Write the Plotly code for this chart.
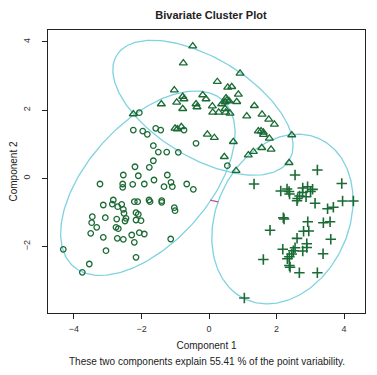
import numpy as np
import plotly.graph_objects as go

# ---- data (component scores) ----
tri_x = [-0.483,-0.761,0.919,0.246,0.554,0.673,-1.028,0.868,-0.187,-0.779,-0.741,0.504,0.533,0.474,0.593,-0.089,-0.957,0.821,0.376,-1.413,-0.385,-0.356,0.098,1.342,-0.779,0.474,-2.243,0.110,0.287,0.495,0.622,1.570,1.117,1.769,1.935,-1.007,-0.939,-0.821,1.461,1.541,1.609,1.615,-0.050,0.157,1.787,2.450,0.720,1.561,1.837,1.313,0.453,1.164,2.370,0.800]
tri_y = [3.880,3.381,3.079,2.833,2.669,2.686,2.589,2.463,2.443,2.399,2.326,2.355,2.296,2.238,2.267,2.326,2.229,2.246,2.179,2.179,2.179,2.091,2.120,2.129,2.041,2.041,1.886,1.935,1.935,1.935,1.906,1.877,1.827,1.730,1.584,1.466,1.446,1.513,1.387,1.387,1.349,1.284,1.290,1.191,1.173,1.270,1.073,0.897,0.850,0.780,0.633,0.683,0.457,0.223]

circ_x = [-2.065,-2.243,-1.964,-1.828,-1.579,-1.431,-0.741,-0.385,-1.650,-1.502,-1.253,-0.910,-1.650,0.542,-2.193,-1.769,-2.539,-2.095,-1.236,-1.630,-3.230,-2.557,-2.557,-2.261,-1.917,-1.126,-1.087,-1.333,-0.661,-0.465,-2.836,-3.132,-2.865,-2.587,-2.213,-2.113,-1.778,-1.748,-1.401,-1.401,-2.705,-2.539,-2.519,-1.028,-1.007,-3.458,-3.476,-3.073,-2.735,-2.459,-2.489,-2.163,-2.095,-2.163,-2.015,-3.327,-2.756,-2.687,-3.505,-2.065,-1.917,-2.290,-3.132,-2.717,-2.539,-2.213,-1.135,-4.317,-3.052,-2.163,-3.547,-3.754]
circ_y = [1.924,1.416,1.387,1.290,1.466,1.416,1.416,1.026,0.956,0.771,0.771,0.762,0.516,0.370,0.340,0.323,0.097,0.076,0.097,-0.050,-0.167,-0.167,-0.264,-0.176,-0.167,-0.117,-0.246,-0.246,-0.167,-0.323,-0.636,-0.783,-0.754,-0.762,-0.686,-0.686,-0.636,-0.686,-0.657,-0.704,-0.833,-0.909,-1.026,-0.862,-0.950,-1.126,-1.302,-1.155,-1.194,-1.173,-1.252,-1.009,-1.056,-1.223,-1.243,-1.437,-1.437,-1.478,-1.613,-1.595,-1.633,-1.663,-1.730,-1.760,-1.789,-1.877,-1.780,-2.082,-2.123,-2.317,-2.513,-2.757]

plus_x = [3.209,2.548,1.333,3.932,2.124,2.311,2.370,2.385,2.776,2.919,3.067,3.007,2.770,2.681,2.874,2.607,2.622,3.141,3.956,4.276,3.511,3.683,2.201,2.222,2.924,3.387,3.585,1.807,2.800,2.954,2.607,3.606,2.895,2.895,2.184,2.548,2.498,2.776,3.378,2.450,2.379,2.320,1.609,2.379,2.400,2.676,3.209,1.046]
plus_y = [0.243,0.097,-0.167,-0.152,-0.372,-0.314,-0.387,-0.460,-0.284,-0.246,-0.323,-0.387,-0.416,-0.519,-0.540,-0.657,-0.592,-0.733,-0.666,-0.666,-0.891,-0.850,-1.155,-1.194,-1.273,-1.302,-1.273,-1.525,-1.554,-1.545,-1.760,-1.789,-1.921,-2.029,-2.079,-2.035,-2.123,-2.132,-2.211,-2.220,-2.299,-2.361,-2.381,-2.557,-2.610,-2.768,-2.768,-3.510]

# cluster ellipses: centre, semi-axes, rotation (deg)
ell_cx = [-1.812, -0.180, 2.174]
ell_cy = [-0.143, 2.070, -1.194]
ell_a = [3.290, 2.983, 2.596]
ell_b = [1.781, 1.464, 1.958]
ell_ang = [47.4, -30.8, 64.4]

seg_x = [0.03, 0.276]
seg_y = [-0.64, -0.688]

x_ticks = [-4, -2, 0, 2, 4]
y_ticks = [-2, 0, 2, 4]

def ellipse(cx, cy, a, b, ang, n=240):
    t = np.linspace(0, 2*np.pi, n)
    th = np.radians(ang)
    u = a*np.cos(t); v = b*np.sin(t)
    return cx + u*np.cos(th) - v*np.sin(th), cy + u*np.sin(th) + v*np.cos(th)

fig = go.Figure()
for i in range(3):
    X, Y = ellipse(ell_cx[i], ell_cy[i], ell_a[i], ell_b[i], ell_ang[i])
    fig.add_trace(go.Scatter(x=X, y=Y, mode="lines", line=dict(color="#7fd2e0", width=1.3), hoverinfo="skip"))

green = "#1b6b35"
fig.add_trace(go.Scatter(x=circ_x, y=circ_y, mode="markers",
    marker=dict(symbol="circle-open", size=5.5, color=green, line=dict(width=1.3))))
fig.add_trace(go.Scatter(x=tri_x, y=tri_y, mode="markers",
    marker=dict(symbol="triangle-up-open", size=7, color=green, line=dict(width=1.3))))
fig.add_trace(go.Scatter(x=plus_x, y=plus_y, mode="markers",
    marker=dict(symbol="cross-thin-open", size=7.5, color=green, line=dict(width=1.6, color=green))))
fig.add_trace(go.Scatter(x=seg_x, y=seg_y, mode="lines", line=dict(color="#c04fa0", width=1.3)))

font = "Liberation Sans, Arial"
axis_common = dict(showline=True, mirror=True, linecolor="#222", linewidth=1, automargin=False,
                   ticks="outside", ticklen=5, tickcolor="#222", showgrid=False, zeroline=False,
                   tickfont=dict(family=font, size=9, color="#333"))
# page body has an 8px margin, so the figure is sized/offset to compensate
fig.update_layout(
    width=369, height=367, showlegend=False,
    margin=dict(l=40, r=12, t=22, b=62),
    paper_bgcolor="white", plot_bgcolor="white",
    title=dict(text="<b>Bivariate Cluster Plot</b>", x=0.55, xanchor="center", y=0.981, yanchor="middle",
               font=dict(family=font, size=11, color="#222")),
    xaxis=dict(range=[-4.77, 4.62], tickvals=x_ticks, ticklabelstandoff=2, **axis_common,
               title=dict(text="Component 1", standoff=9, font=dict(family=font, size=10, color="#222"))),
    yaxis=dict(range=[-3.95, 4.35], tickvals=y_ticks, tickangle=-90, ticklabelstandoff=8, **axis_common,
               title=dict(text="Component 2", standoff=2, font=dict(family=font, size=10, color="#222"))),
)
fig.add_annotation(text="These two components explain 55.41 % of the point variability.",
                   xref="paper", yref="paper", x=0.5, y=-0.173, yanchor="middle", showarrow=False,
                   font=dict(family=font, size=10, color="#222"))
fig.write_html("out.html")
